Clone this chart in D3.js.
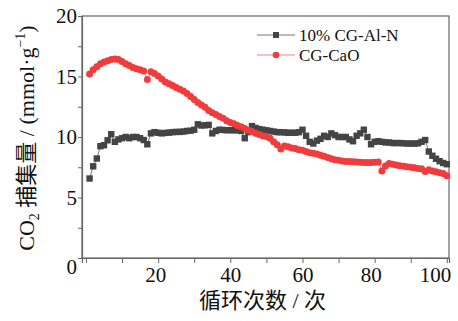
<!DOCTYPE html>
<html>
<head>
<meta charset="utf-8">
<script src="https://cdn.jsdelivr.net/npm/d3@7/dist/d3.min.js"></script>
<style>
  html, body { margin: 0; padding: 0; background: #fff; }
  svg { display: block; }
</style>
</head>
<body>
<svg id="chart" width="458" height="321"></svg>
<script>
// Cycle numbers
const cycles = d3.range(1, 101);

// CO2 uptake (mmol/g) per cycle, 10% CG-Al-N
const alN = [
  6.57, 7.58, 8.22, 9.24, 9.32, 9.73, 10.23, 9.6, 9.8, 9.9,
  10.0, 9.9, 10.0, 10.0, 9.9, 9.75, 9.4, 10.3, 10.4, 10.35,
  10.3, 10.34, 10.36, 10.4, 10.42, 10.42, 10.45, 10.5, 10.52, 10.6,
  11.05, 10.95, 10.97, 11.0, 10.3, 10.5, 10.6, 10.58, 10.56, 10.56,
  10.56, 10.55, 10.5, 9.9, 10.4, 10.9, 10.75, 10.65, 10.6, 10.55,
  10.5, 10.45, 10.4, 10.4, 10.38, 10.35, 10.35, 10.35, 10.4, 10.6,
  10.1, 9.6, 9.46, 9.7, 9.85, 10.1, 10.0, 10.3, 10.15, 10.0,
  10.0, 10.0, 9.8, 9.65, 10.1, 10.3, 10.6, 10.0, 9.4, 9.6,
  9.65, 9.6, 9.55, 9.55, 9.5, 9.5, 9.5, 9.48, 9.46, 9.46,
  9.45, 9.48, 9.6, 9.75, 8.8, 8.45, 8.2, 8.0, 7.85, 7.75
];

// CO2 uptake (mmol/g) per cycle, CG-CaO
const caO = [
  15.2, 15.55, 15.8, 16.05, 16.2, 16.3, 16.4, 16.44, 16.4, 16.25,
  16.05, 15.9, 15.75, 15.65, 15.55, 15.45, 14.75, 15.4, 15.25, 15.05,
  14.8, 14.55, 14.4, 14.25, 14.1, 13.95, 13.8, 13.6, 13.35, 13.1,
  12.85, 12.65, 12.45, 12.2, 12.0, 11.85, 11.7, 11.55, 11.35, 11.2,
  11.1, 10.95, 10.85, 10.7, 10.55, 10.45, 10.3, 10.2, 10.1, 10.05,
  9.9, 9.6, 9.35, 9.0, 9.25, 9.2, 9.1, 9.05, 8.95, 8.9,
  8.8, 8.7, 8.65, 8.6, 8.5, 8.4, 8.3, 8.2, 8.12, 8.08,
  8.02, 7.98, 7.97, 7.95, 7.93, 7.92, 7.9, 7.9, 7.9, 7.92,
  7.94, 7.2, 7.6, 7.8, 7.75, 7.68, 7.62, 7.58, 7.55, 7.5,
  7.45, 7.4, 7.38, 7.15, 7.3, 7.2, 7.12, 7.05, 6.98, 6.8
];

const seriesNames = ["10% CG-Al-N", "CG-CaO"];
const xTicks = d3.range(0, 101, 10);
const xTickLabels = [20, 40, 60, 80, 100];
const yTicks = d3.range(0, 20.01, 2.5);
const yTickLabels = [0, 5, 10, 15, 20];

const svg = d3.select("#chart");
const L = 82, R = 449, T = 16, B = 258;

const x = d3.scaleLinear().domain([-1.1, 100.6]).range([L, R]);
const y = d3.scaleLinear().domain([0, 20]).range([B, T]);

const axisColor = "#666";
const serif = '"Liberation Serif", "Times New Roman", serif';

// Frame
svg.append("rect")
  .attr("x", L).attr("y", T).attr("width", R - L).attr("height", B - T)
  .attr("fill", "none").attr("stroke", axisColor).attr("stroke-width", 1.2);

// X axis
const gx = svg.append("g")
  .attr("transform", `translate(0,${B})`)
  .call(d3.axisBottom(x).tickValues(xTicks).tickSize(5).tickPadding(4)
    .tickFormat(d => xTickLabels.includes(d) ? String(d) : ""));

// Y axis
const gy = svg.append("g")
  .attr("transform", `translate(${L},0)`)
  .call(d3.axisLeft(y).tickValues(yTicks).tickSize(4).tickPadding(1)
    .tickFormat(d => yTickLabels.includes(d) ? String(d) : ""));

[gx, gy].forEach(g => {
  g.attr("font-family", serif).attr("font-size", 21);
  g.select(".domain").attr("stroke", axisColor).attr("stroke-width", 1.2);
  g.selectAll(".tick line").attr("stroke", axisColor).attr("stroke-width", 1);
  g.selectAll(".tick text").attr("fill", "#111");
});
// the zero label sits just below the corner
gy.selectAll(".tick text").filter(d => d === 0).attr("dy", "0.75em").attr("x", -5);
// the last x label stays inside the frame's right edge
gx.selectAll(".tick text").filter(d => d === 100).attr("text-anchor", "end").attr("dx", 4);
gx.selectAll(".tick text").filter(d => d === 80).attr("dx", -4);
gx.selectAll(".tick text").filter(d => d === 20).attr("dx", -3);

// Series lines and markers
const line = d3.line().x((d, i) => x(cycles[i])).y(d => y(d));

svg.append("path").datum(alN).attr("d", line)
  .attr("fill", "none").attr("stroke", "#777").attr("stroke-width", 1);
svg.append("path").datum(caO).attr("d", line)
  .attr("fill", "none").attr("stroke", "#f58080").attr("stroke-width", 1);

const sq = 6.4;
svg.append("g").selectAll("rect").data(alN).join("rect")
  .attr("x", (d, i) => x(cycles[i]) - sq / 2)
  .attr("y", d => y(d) - sq / 2)
  .attr("width", sq).attr("height", sq)
  .attr("fill", "#444");

svg.append("g").selectAll("circle").data(caO).join("circle")
  .attr("cx", (d, i) => x(cycles[i]))
  .attr("cy", d => y(d))
  .attr("r", 3.5)
  .attr("fill", "#f03c3c");

// Legend
const leg = svg.append("g");
const legRows = [
  { name: seriesNames[0], line: "#777", mark: "sq", fill: "#444", cy: 35 },
  { name: seriesNames[1], line: "#f58080", mark: "ci", fill: "#f03c3c", cy: 55 }
];
legRows.forEach(r => {
  leg.append("line").attr("x1", 257).attr("x2", 295).attr("y1", r.cy).attr("y2", r.cy)
    .attr("stroke", r.line).attr("stroke-width", 1);
  if (r.mark === "sq") {
    leg.append("rect").attr("x", 276 - 3).attr("y", r.cy - 3).attr("width", 6).attr("height", 6).attr("fill", r.fill);
  } else {
    leg.append("circle").attr("cx", 276).attr("cy", r.cy).attr("r", 3.3).attr("fill", r.fill);
  }
  leg.append("text").attr("x", 299).attr("y", r.cy + 6)
    .style("font-family", serif).style("font-size", "17px")
    .attr("fill", "#111").text(r.name);
});

// Axis titles
const titleFont = '"Liberation Serif", "Noto Sans CJK SC", serif';
svg.append("text")
  .attr("x", (L + R) / 2 - 3).attr("y", 308)
  .attr("text-anchor", "middle")
  .style("font-family", titleFont)
  .style("font-size", "22px").attr("fill", "#111")
  .text("循环次数 / 次");

const yt = svg.append("text")
  .attr("transform", "translate(34,138) rotate(-90)")
  .attr("text-anchor", "middle")
  .style("font-family", titleFont)
  .style("font-size", "22px").attr("fill", "#111");
yt.append("tspan").text("CO");
yt.append("tspan").attr("dy", 5).style("font-size", "14px").text("2");
yt.append("tspan").attr("dy", -5).text(" 捕集量 / (mmol·g");
yt.append("tspan").attr("dy", -9).style("font-size", "14px").text("−1");
yt.append("tspan").attr("dy", 9).text(")");
</script>
</body>
</html>
